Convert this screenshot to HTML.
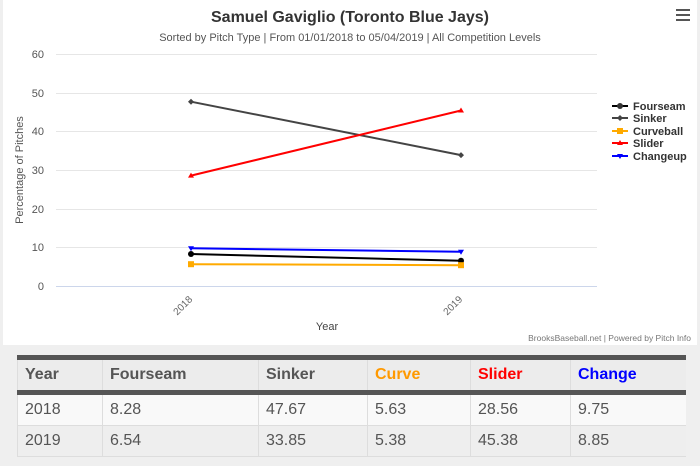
<!DOCTYPE html>
<html><head><meta charset="utf-8"><style>
body{margin:0;width:700px;height:466px;background:#efefef;font-family:"Liberation Sans",sans-serif;overflow:hidden;position:relative}
#chart{position:absolute;left:3px;top:0;width:694px;height:345px;background:#fff}
table{position:absolute;left:17px;top:355px;width:669px;border-collapse:collapse;font-size:16px;color:#555}
th{background:#ececec;text-align:left;height:30px;padding:0 0 0 7px;border-top:5px solid #555;border-bottom:5px solid #555;border-left:1px solid #ddd;font-weight:bold;font-size:16px}
td{height:30px;padding:0 0 0 7px;border-left:1px solid #ddd;border-bottom:1px solid #ddd}
tr.r1 td{background:#f9f9f9}tr.r2 td{background:#eee}
</style></head><body>
<div id="chart"></div>
<svg width="700" height="345" style="position:absolute;left:0;top:0" font-family="Liberation Sans, sans-serif">
<text x="350" y="22" text-anchor="middle" font-size="16" font-weight="bold" fill="#333">Samuel Gaviglio (Toronto Blue Jays)</text>
<text x="350" y="41" text-anchor="middle" font-size="11" fill="#555">Sorted by Pitch Type | From 01/01/2018 to 05/04/2019 | All Competition Levels</text>
<g fill="#555"><rect x="676" y="9" width="14" height="2"/><rect x="676" y="14" width="14" height="2"/><rect x="676" y="19" width="14" height="2"/></g>
<g stroke="#e6e6e6" stroke-width="1">
<line x1="56" x2="597" y1="54.5" y2="54.5"/><line x1="56" x2="597" y1="93.5" y2="93.5"/><line x1="56" x2="597" y1="131.5" y2="131.5"/><line x1="56" x2="597" y1="170.5" y2="170.5"/><line x1="56" x2="597" y1="209.5" y2="209.5"/><line x1="56" x2="597" y1="247.5" y2="247.5"/></g>
<line x1="56" x2="597" y1="286.5" y2="286.5" stroke="#ccd6eb"/>
<g font-size="11" fill="#555" text-anchor="end"><text x="44" y="58">60</text><text x="44" y="97">50</text><text x="44" y="135">40</text><text x="44" y="174">30</text><text x="44" y="213">20</text><text x="44" y="251">10</text><text x="44" y="290">0</text></g>
<text transform="translate(23,170) rotate(-90)" text-anchor="middle" font-size="11" fill="#555">Percentage of Pitches</text>
<g font-size="10" fill="#666"><text transform="translate(193,300) rotate(-45)" text-anchor="end">2018</text><text transform="translate(463,300) rotate(-45)" text-anchor="end">2019</text></g>
<text x="327" y="330" text-anchor="middle" font-size="11" fill="#444">Year</text>
<text x="691" y="341" text-anchor="end" font-size="8.5" fill="#777">BrooksBaseball.net | Powered by Pitch Info</text>
<g stroke-width="2">
<line x1="191" y1="101.7" x2="461" y2="155.1" stroke="#444"/>
<line x1="191" y1="175.6" x2="461" y2="110.5" stroke="#f00"/>
<line x1="191" y1="248.3" x2="461" y2="251.8" stroke="#00f"/>
<line x1="191" y1="254" x2="461" y2="260.7" stroke="#000"/>
<line x1="191" y1="264.2" x2="461" y2="265.2" stroke="#fa0"/>
</g>
<g><circle cx="191" cy="254" r="3" fill="#000"/><circle cx="461" cy="260.7" r="3" fill="#000"/>
<path d="M191 98.7l3 3-3 3-3-3z M461 152.1l3 3-3 3-3-3z" fill="#444"/>
<rect x="188" y="261.2" width="6" height="6" fill="#fa0"/><rect x="458" y="262.2" width="6" height="6" fill="#fa0"/>
<path d="M191 172.6l3 5h-6z M461 107.5l3 5h-6z" fill="#f00"/>
<path d="M188 246.3h6l-3 5z M458 249.8h6l-3 5z" fill="#00f"/></g>
<g font-size="11" font-weight="bold" fill="#333">
<line x1="612" x2="628" y1="106" y2="106" stroke="#000" stroke-width="2"/><circle cx="620" cy="106" r="3"/><text x="633" y="110">Fourseam</text>
<line x1="612" x2="628" y1="118" y2="118" stroke="#444" stroke-width="2"/><path d="M620 115l3 3-3 3-3-3z" fill="#444"/><text x="633" y="122">Sinker</text>
<line x1="612" x2="628" y1="131" y2="131" stroke="#fa0" stroke-width="2"/><rect x="617" y="128" width="6" height="6" fill="#fa0"/><text x="633" y="135">Curveball</text>
<line x1="612" x2="628" y1="143" y2="143" stroke="#f00" stroke-width="2"/><path d="M620 140l3 5h-6z" fill="#f00"/><text x="633" y="147">Slider</text>
<line x1="612" x2="628" y1="156" y2="156" stroke="#00f" stroke-width="2"/><path d="M617 154h6l-3 5z" fill="#00f"/><text x="633" y="160">Changeup</text>
</g>
</svg>
<table>
<tr><th style="width:77px">Year</th><th style="width:148px">Fourseam</th><th style="width:101px">Sinker</th><th style="width:95px;color:#f90">Curve</th><th style="width:92px;color:#f00">Slider</th><th style="color:#00f">Change</th></tr>
<tr class="r1"><td>2018</td><td>8.28</td><td>47.67</td><td>5.63</td><td>28.56</td><td>9.75</td></tr>
<tr class="r2"><td>2019</td><td>6.54</td><td>33.85</td><td>5.38</td><td>45.38</td><td>8.85</td></tr>
</table>
</body></html>
